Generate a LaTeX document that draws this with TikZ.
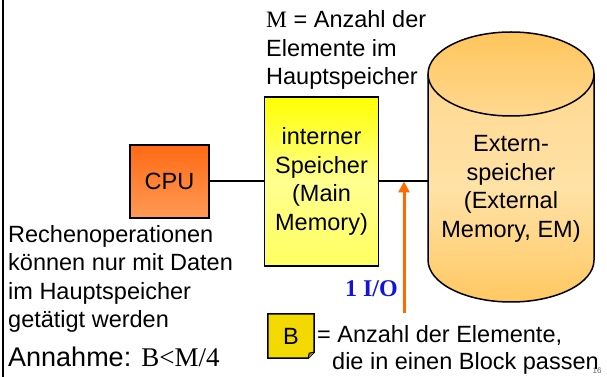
\documentclass[tikz,border=0pt]{standalone}
\usepackage{fontspec}
\setmainfont{Liberation Sans}
\newfontfamily\timesf{Liberation Serif}
\usepackage{xcolor}
\usepackage{tikz}
\usetikzlibrary{arrows.meta,positioning,calc}

\definecolor{cpuTop}{HTML}{FF6A14}
\definecolor{cpuBot}{HTML}{FF9A55}
\definecolor{mmTop}{HTML}{FFFF00}
\definecolor{mmMid}{HTML}{FFFF90}
\definecolor{mmBot}{HTML}{FFFF60}
\definecolor{emTop}{HTML}{FFC55C}
\definecolor{emBody}{HTML}{FFE2A6}
\definecolor{emBot}{HTML}{FFC862}
\definecolor{emLid}{HTML}{FFD890}
\definecolor{ioOrange}{HTML}{FF6A00}
\definecolor{ioBlue}{HTML}{1414D8}
\definecolor{blkFill}{HTML}{F2D900}

\begin{document}
\begin{tikzpicture}[x=1pt, y=1pt,
    node distance=54pt,
    txt/.style={font=\fontsize{23.5}{28.5}\selectfont, inner sep=0pt, align=left},
    cpubox/.style={rectangle, draw=black, line width=1.5pt, top color=cpuTop, bottom color=cpuBot, minimum width=79pt, minimum height=73pt, font=\fontsize{23.5}{28.5}\selectfont},
    mmbox/.style={rectangle, draw=black, line width=1.5pt, top color=mmTop, bottom color=mmBot, middle color=mmMid, minimum width=114pt, minimum height=169pt, align=center, font=\fontsize{23.5}{28.5}\selectfont},
    blkbox/.style={rectangle, fill=blkFill, minimum width=46pt, minimum height=44pt, font=\fontsize{23.5}{28.5}\selectfont},
    cyl/.style={line width=1.5pt, draw=black},
    link/.style={line width=2pt, draw=black},
    ioarr/.style={-{Triangle[width=11pt,length=11pt]}, line width=3pt, draw=ioOrange}
]
    \useasboundingbox (0,0) rectangle (607,377);
    \draw [line width=2pt] (3,0) -- (3,377);

    % external memory drum
    \shade [top color=emLid, bottom color=emBot, middle color=emBody] (428,303) -- (428,117) arc [start angle=180, end angle=360, x radius=83, y radius=42] -- (594,303) -- cycle;
    \draw [cyl] (428,303) -- (428,117) arc [start angle=180, end angle=360, x radius=83, y radius=42] -- (594,303);
    \shade [top color=emTop, bottom color=emLid] (511,303) ellipse [x radius=83, y radius=42];
    \draw [cyl] (511,303) ellipse [x radius=83, y radius=42];
    \node [txt, align=center] (em) at (511,188) {Extern-\\speicher\\(External\\Memory, EM)};
    \coordinate (emW) at (428,195.5);

    \node [cpubox] (cpu) at (169.5,195.5) {CPU};
    \node [mmbox, right=of cpu] (mm) {interner\\Speicher\\(Main\\Memory)};

    \draw [link] (cpu) -- (mm);
    \draw [link] (mm.east) -- (emW);

    \coordinate (iobot) at (404,64);
    \draw [ioarr] (iobot) -- (iobot |- mm.east);
    \node [anchor=base east, inner sep=0pt, text=ioBlue, font=\fontsize{24}{24}\selectfont\timesf\bfseries] (io) at (398,80) {1 I/O};

    \node [txt, anchor=base west] (mtxt) at (266,292) {{\timesf M} = Anzahl der\\Elemente im\\Hauptspeicher};
    \node [txt, anchor=base west] (rtxt) at (8,49) {Rechenoperationen\\können nur mit Daten\\im Hauptspeicher\\getätigt werden};
    \node [txt, anchor=base west, font=\fontsize{27}{30}\selectfont] (ann) at (8,10) {Annahme: {\timesf B<M/4}};

    % block with folded corner
    \node [blkbox] (blk) at (291,41) {B};
    \fill [white] ($(blk.south east)+(0,6)$) -- (blk.south east) -- ($(blk.south east)+(-6,0)$) -- cycle;
    \draw [line width=1.5pt] (blk.north west) -- (blk.north east) -- ($(blk.south east)+(0,6)$) -- ($(blk.south east)+(-6,0)$) -- (blk.south west) -- cycle;
    \filldraw [fill=blkFill!70!black, line width=1pt] ($(blk.south east)+(-6,0)$) -- ($(blk.south east)+(-5,5)$) -- ($(blk.south east)+(0,6)$);
    \node [txt, anchor=base west, font=\fontsize{23.5}{27}\selectfont] (btxt) at (317,7) {= Anzahl der Elemente,\\\hspace*{15pt}die in einen Block passen};

    \node [anchor=base, inner sep=0pt, text=black!60, font=\fontsize{8}{8}\selectfont] (pnum) at (597,3) {16};
\end{tikzpicture}
\end{document}
